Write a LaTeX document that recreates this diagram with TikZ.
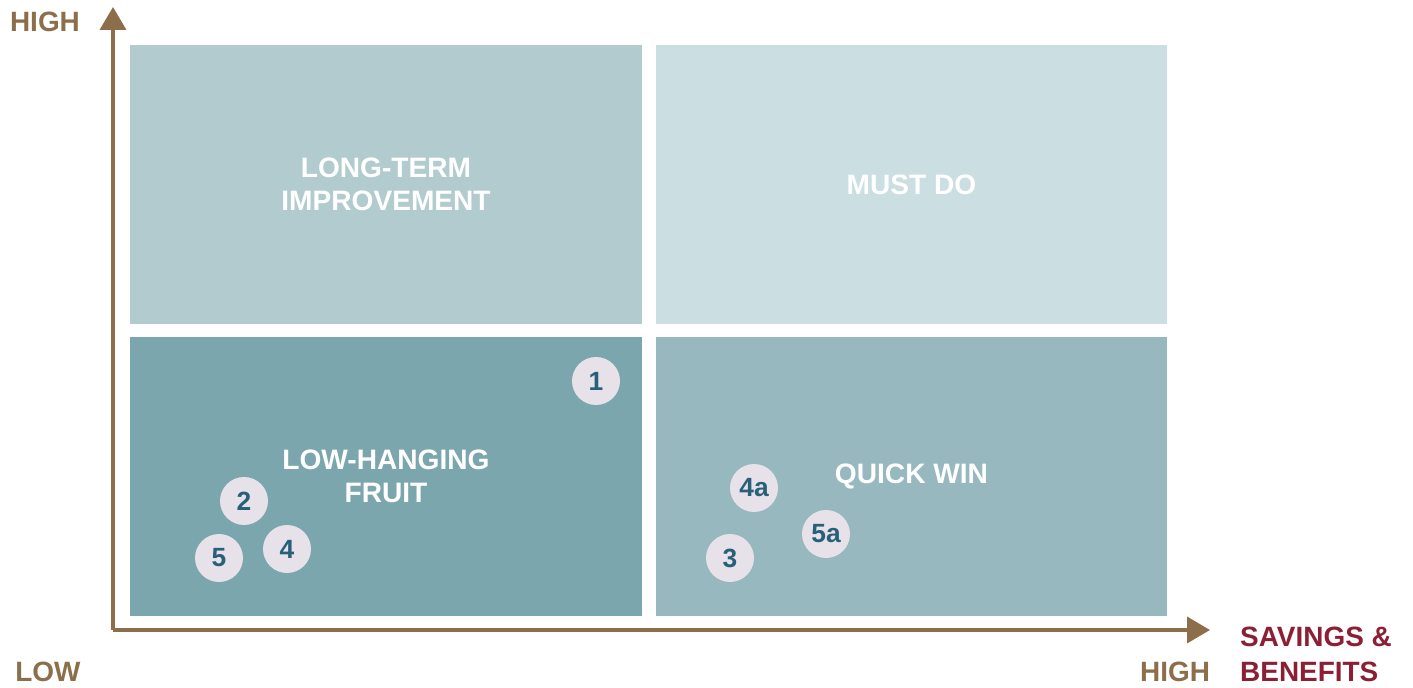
\documentclass[tikz,border=0pt]{standalone}
\usepackage{fontspec}
\setmainfont{Liberation Sans}
\usepackage{tikz}
\usetikzlibrary{
  arrows.meta,
  positioning
}
\definecolor{axisBrown}{RGB}{141,110,75}
\definecolor{benefitRed}{RGB}{139,31,52}
\definecolor{longtermFill}{RGB}{177,203,206}
\definecolor{mustdoFill}{RGB}{203,222,225}
\definecolor{lowhangFill}{RGB}{124,166,173}
\definecolor{quickwinFill}{RGB}{151,184,190}
\definecolor{itemFill}{RGB}{231,226,233}
\definecolor{itemInk}{RGB}{40,96,122}
\tikzset{
  axis/.style={-{Triangle[length=0.46cm,width=0.52cm]}, draw=axisBrown, line width=2.1pt},
  quadrant/.style={
    rectangle,
    minimum width=10.24cm,
    minimum height=5.58cm,
    inner sep=0pt,
    align=center,
    text=white,
    font=\bfseries\fontsize{16}{18.8}\selectfont
  },
  item/.style={
    circle,
    fill=itemFill,
    minimum size=0.96cm,
    inner sep=0pt,
    text=itemInk,
    font=\bfseries\fontsize{15}{18}\selectfont
  },
  axis label/.style={text=axisBrown, font=\bfseries\fontsize{15.9}{19.9}\selectfont},
  title label/.style={text=benefitRed, align=left, font=\bfseries\fontsize{15.9}{19.9}\selectfont}
}

\begin{document}
\begin{tikzpicture}[x=0.02cm,y=-0.02cm]
  \useasboundingbox (0,0) rectangle (1413,688);

  % the four quadrants
  \node[quadrant, fill=longtermFill] (longterm) at (386,184.5) {LONG-TERM\\IMPROVEMENT};
  \node[quadrant, fill=mustdoFill] (mustdo) at (911.5,184.5) {MUST DO};
  \node[quadrant, fill=lowhangFill] (lowhang) at (386,476.5) {LOW-HANGING\\FRUIT};
  \node[quadrant, fill=quickwinFill] (quickwin) at (911.5,476.5) {QUICK WIN};

  % axes
  \coordinate (origin) at (113,630);
  \coordinate (ytip) at (113,7);
  \coordinate (xtip) at (1210,630);
  \draw[axis] (origin) -- (ytip);
  \draw[axis] (origin) -- (xtip);

  \node[axis label] (yhigh) at (45,22) {HIGH};
  \node[axis label] (xlow) at (48,672) {LOW};
  \node[axis label] (xhigh) at (1175,672) {HIGH};
  \node[title label, anchor=west] (savings) at (1234,654.5) {SAVINGS \&\\BENEFITS};

  % measures
  \node[item] (m1) at (596,381) {1};
  \node[item] (m2) at (244,501) {2};
  \node[item] (m4) at (287,549) {4};
  \node[item] (m5) at (219,558) {5};
  \node[item] (m4a) at (754,488) {4a};
  \node[item] (m5a) at (826,534) {5a};
  \node[item] (m3) at (730,558) {3};
\end{tikzpicture}
\end{document}
